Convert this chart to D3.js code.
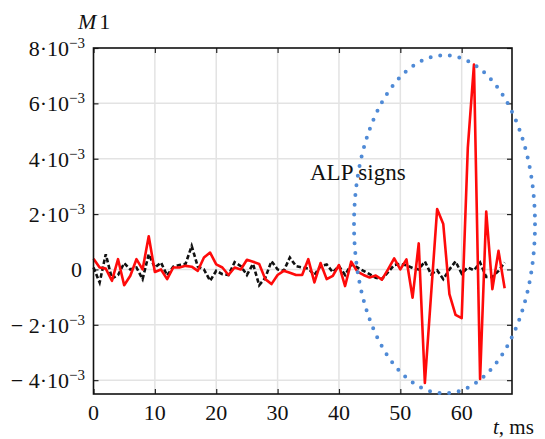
<!DOCTYPE html>
<html><head><meta charset="utf-8">
<script src="https://cdn.jsdelivr.net/npm/d3@7"></script>
<style>body{margin:0;background:#fff}svg{display:block}</style>
</head><body>
<script>
// time axis (ms), one sample per ms
const times = d3.range(0, 68);
// red series (units of 1e-3)
const redValues = [0.39,0.07,0.03,-0.41,0.37,-0.57,-0.23,0.37,0.0,1.2,
  -0.09,0.0,-0.35,0.07,0.07,0.13,0.1,-0.05,0.43,0.61,
  0.18,0.07,-0.2,0.07,0.0,0.35,0.28,0.2,-0.35,-0.53,
  -0.2,-0.05,-0.12,-0.2,-0.2,0.37,-0.47,0.23,-0.35,-0.23,
  0.16,-0.6,0.28,-0.08,-0.2,-0.29,-0.22,-0.37,0.0,0.4,
  0.0,0.36,-1.02,0.94,-4.1,-0.95,2.18,1.64,-0.89,-1.64,
  -1.76,4.4,7.4,-3.96,2.09,-0.71,0.67,-0.68];
// black dashed series (units of 1e-3)
const blackValues = [0.07,-0.47,0.55,-0.33,-0.2,0.23,0.0,0.07,-0.35,0.55,
  0.07,0.25,-0.22,0.1,0.16,0.2,0.85,0.1,0.0,-0.41,
  -0.05,-0.17,-0.2,0.26,0.12,-0.2,0.2,-0.57,-0.3,0.3,
  0.0,-0.05,0.43,0.12,0.07,0.03,-0.2,0.12,0.18,-0.1,
  0.12,-0.2,0.18,0.07,-0.05,-0.17,-0.3,-0.35,-0.1,0.16,
  0.2,0.15,0.05,0.0,0.29,-0.17,-0.03,-0.35,0.0,0.29,
  -0.15,0.07,-0.03,0.25,-0.27,-0.27,-0.05,0.25];
const xTicks = [0,10,20,30,40,50,60];
const yTicks = [-4,-2,0,2,4,6,8];
const yTickLabels = ["\u2212 4","\u2212 2","0","2","4","6","8"];

const W = 545, H = 439;
const FONT = '"Liberation Serif"';
const svg = d3.select("body").append("svg").attr("width", W).attr("height", H);
const x = d3.scaleLinear().domain([0, 68.2]).range([93.5, 512]);
const y = d3.scaleLinear().domain([-4.5, 8]).range([394, 48]);

// grid
svg.append("g").selectAll("line").data(xTicks.slice(1)).join("line")
  .attr("x1", d => x(d)).attr("x2", d => x(d)).attr("y1", y(8)).attr("y2", y(-4.5))
  .attr("stroke", "#e3e3e3").attr("stroke-width", 1.5);
svg.append("g").selectAll("line").data(yTicks.slice(0, -1)).join("line")
  .attr("x1", x(0)).attr("x2", x(68.2)).attr("y1", d => y(d)).attr("y2", d => y(d))
  .attr("stroke", "#e3e3e3").attr("stroke-width", 1.5);

// axes with inward ticks
const fmtNone = () => "";
svg.append("g").attr("transform", `translate(0,${y(-4.5)})`)
  .call(d3.axisTop(x).tickValues(xTicks).tickSize(5).tickFormat(fmtNone));
svg.append("g").attr("transform", `translate(0,${y(8)})`)
  .call(d3.axisBottom(x).tickValues(xTicks).tickSize(5).tickFormat(fmtNone));
svg.append("g").attr("transform", `translate(${x(0)},0)`)
  .call(d3.axisRight(y).tickValues(yTicks).tickSize(5).tickFormat(fmtNone));
svg.append("g").attr("transform", `translate(${x(68.2)},0)`)
  .call(d3.axisLeft(y).tickValues(yTicks).tickSize(5).tickFormat(fmtNone));
svg.selectAll(".domain").remove();
svg.selectAll(".tick line").attr("stroke", "#222").attr("stroke-width", 1.2);

// lines
const line = d3.line().x((d, i) => x(times[i])).y(d => y(d));
svg.append("path").datum(blackValues).attr("d", line).attr("fill", "none")
  .attr("stroke", "#111").attr("stroke-width", 2.6).attr("stroke-dasharray", "4.5,2.5");
svg.append("path").datum(redValues).attr("d", line).attr("fill", "none")
  .attr("stroke", "#ff0a0a").attr("stroke-width", 2.6).attr("stroke-linejoin", "round");

// frame
svg.append("rect").attr("x", x(0)).attr("y", y(8)).attr("width", x(68.2) - x(0))
  .attr("height", y(-4.5) - y(8)).attr("fill", "none").attr("stroke", "#111").attr("stroke-width", 1.6);

// ellipse (ALP region)
svg.append("ellipse").attr("cx", x(57.2)).attr("cy", y(1.63)).attr("rx", 90.5).attr("ry", 169)
  .attr("fill", "none").attr("stroke", "#4f8ad6").attr("stroke-width", 4)
  .attr("stroke-linecap", "round").attr("stroke-dasharray", "0,9.7");

// x tick labels
svg.append("g").selectAll("text").data(xTicks).join("text")
  .attr("x", d => x(d)).attr("y", 420).attr("text-anchor", "middle")
  .style("font-family", FONT).attr("font-size", 22).attr("fill", "#111").text(d => d);

// y tick labels
const yl = svg.append("g").selectAll("text").data(yTicks).join("text")
  .attr("x", d => d === 0 ? 82 : 85).attr("y", d => y(d) + 8).attr("text-anchor", "end")
  .style("font-family", FONT).attr("font-size", 22).attr("fill", "#111");
yl.each(function(d, i) {
  const t = d3.select(this);
  if (d === 0) { t.text("0"); return; }
  t.append("tspan").text(yTickLabels[i] + "\u00B710");
  t.append("tspan").attr("dy", -8).attr("font-size", 15).text("\u22123");
});

// axis titles
const m1 = svg.append("text").attr("x", 78).attr("y", 29).style("font-family", FONT)
  .attr("font-size", 22).attr("fill", "#111");
m1.append("tspan").attr("font-style", "italic").text("M");
m1.append("tspan").attr("dx", 3).text("1");
const tl = svg.append("text").attr("x", 493).attr("y", 434).style("font-family", FONT)
  .attr("font-size", 21).attr("fill", "#111");
tl.append("tspan").attr("font-style", "italic").text("t");
tl.append("tspan").text(", ms");

// annotation
svg.append("text").attr("x", 310).attr("y", 180).style("font-family", FONT)
  .attr("font-size", 23).attr("fill", "#111").text("ALP signs");
</script>
</body></html>
